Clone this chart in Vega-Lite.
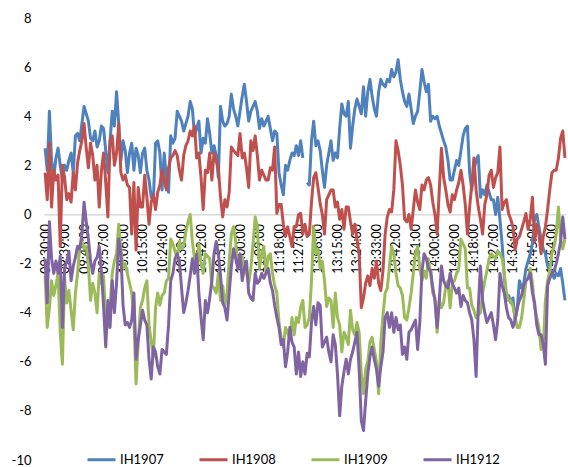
{
"$schema":"https://vega.github.io/schema/vega-lite/v6.json",
"width":522,"height":442,
"autosize":{"type":"none"},
"padding":{"left":44,"top":18,"right":2,"bottom":7},
"background":"white",
"config":{"view":{"stroke":null},"font":"Lato"},
"data":{"values":[
{"t":"09:30:00","IH1907":2.7,"IH1908":1.7,"IH1909":-2.5,"IH1912":-1.8},
{"t":"09:31:00","IH1907":1.8,"IH1908":0.6,"IH1909":-4.6,"IH1912":-3.6},
{"t":"09:32:00","IH1907":4.2,"IH1908":2.9,"IH1909":-3.8,"IH1912":-0.3},
{"t":"09:33:00","IH1907":2.2,"IH1908":0.3,"IH1909":-2.7,"IH1912":-1.8},
{"t":"09:34:00","IH1907":1.5,"IH1908":1.8,"IH1909":-3.3,"IH1912":-2.4},
{"t":"09:35:00","IH1907":2.3,"IH1908":1.4,"IH1909":-2.9,"IH1912":-1.9},
{"t":"09:36:00","IH1907":2.7,"IH1908":1.6,"IH1909":-2.4,"IH1912":-2.4},
{"t":"09:37:00","IH1907":2.0,"IH1908":-1.3,"IH1909":-4.8,"IH1912":-1.7},
{"t":"09:38:00","IH1907":1.4,"IH1908":2.0,"IH1909":-6.1,"IH1912":-4.6},
{"t":"09:39:00","IH1907":2.0,"IH1908":1.5,"IH1909":-2.6,"IH1912":-2.2},
{"t":"09:40:00","IH1907":1.8,"IH1908":0.6,"IH1909":-3.6,"IH1912":-1.9},
{"t":"09:41:00","IH1907":2.2,"IH1908":0.85,"IH1909":-3.1,"IH1912":-1.5},
{"t":"09:42:00","IH1907":2.5,"IH1908":0.5,"IH1909":-3.9,"IH1912":-2.7},
{"t":"09:43:00","IH1907":1.7,"IH1908":1.7,"IH1909":-4.7,"IH1912":-2.1},
{"t":"09:44:00","IH1907":3.2,"IH1908":1.0,"IH1909":-3.2,"IH1912":-1.75},
{"t":"09:45:00","IH1907":3.3,"IH1908":2.1,"IH1909":-2.4,"IH1912":-1.3},
{"t":"09:46:00","IH1907":3.0,"IH1908":2.6,"IH1909":-1.3,"IH1912":-1.4},
{"t":"09:47:00","IH1907":3.7,"IH1908":3.0,"IH1909":-1.1,"IH1912":-0.8},
{"t":"09:48:00","IH1907":4.4,"IH1908":3.7,"IH1909":-1.4,"IH1912":0.5},
{"t":"09:49:00","IH1907":4.1,"IH1908":2.7,"IH1909":-1.3,"IH1912":-0.3},
{"t":"09:50:00","IH1907":3.8,"IH1908":1.9,"IH1909":-2.1,"IH1912":-1.0},
{"t":"09:51:00","IH1907":3.1,"IH1908":2.9,"IH1909":-3.5,"IH1912":-1.9},
{"t":"09:52:00","IH1907":3.0,"IH1908":2.4,"IH1909":-2.8,"IH1912":-2.4},
{"t":"09:53:00","IH1907":3.4,"IH1908":1.4,"IH1909":-3.2,"IH1912":-1.9},
{"t":"09:54:00","IH1907":2.75,"IH1908":2.0,"IH1909":-4.0,"IH1912":-1.75},
{"t":"09:55:00","IH1907":3.0,"IH1908":0.3,"IH1909":-2.4,"IH1912":-1.3},
{"t":"09:56:00","IH1907":3.6,"IH1908":1.8,"IH1909":-2.8,"IH1912":-2.3},
{"t":"09:57:00","IH1907":3.5,"IH1908":2.5,"IH1909":-2.5,"IH1912":-3.75},
{"t":"09:58:00","IH1907":2.6,"IH1908":1.3,"IH1909":-4.2,"IH1912":-5.4},
{"t":"09:59:00","IH1907":1.7,"IH1908":-0.1,"IH1909":-4.6,"IH1912":-3.5},
{"t":"10:00:00","IH1907":3.0,"IH1908":3.0,"IH1909":-3.8,"IH1912":-4.6},
{"t":"10:01:00","IH1907":4.2,"IH1908":3.2,"IH1909":-2.4,"IH1912":-2.7},
{"t":"10:02:00","IH1907":3.6,"IH1908":2.0,"IH1909":-1.9,"IH1912":-4.0},
{"t":"10:03:00","IH1907":5.0,"IH1908":2.5,"IH1909":-1.6,"IH1912":-2.8},
{"t":"10:04:00","IH1907":3.7,"IH1908":3.7,"IH1909":-0.4,"IH1912":-1.0},
{"t":"10:05:00","IH1907":2.2,"IH1908":1.7,"IH1909":-1.4,"IH1912":-1.6},
{"t":"10:06:00","IH1907":3.0,"IH1908":1.4,"IH1909":-2.2,"IH1912":-3.7},
{"t":"10:07:00","IH1907":2.6,"IH1908":1.6,"IH1909":-2.0,"IH1912":-4.5},
{"t":"10:08:00","IH1907":1.7,"IH1908":1.2,"IH1909":-2.4,"IH1912":-4.4},
{"t":"10:09:00","IH1907":2.5,"IH1908":1.1,"IH1909":-2.8,"IH1912":-4.6},
{"t":"10:10:00","IH1907":2.9,"IH1908":-0.8,"IH1909":-3.2,"IH1912":-4.3},
{"t":"10:11:00","IH1907":1.8,"IH1908":1.3,"IH1909":-4.2,"IH1912":-3.2},
{"t":"10:12:00","IH1907":2.7,"IH1908":-1.45,"IH1909":-6.9,"IH1912":-5.9},
{"t":"10:13:00","IH1907":2.4,"IH1908":1.1,"IH1909":-5.2,"IH1912":-5.1},
{"t":"10:14:00","IH1907":1.7,"IH1908":0.3,"IH1909":-3.8,"IH1912":-4.5},
{"t":"10:15:00","IH1907":2.5,"IH1908":0.3,"IH1909":-3.5,"IH1912":-3.9},
{"t":"10:16:00","IH1907":2.7,"IH1908":1.6,"IH1909":-3.0,"IH1912":-4.3},
{"t":"10:17:00","IH1907":1.8,"IH1908":0.7,"IH1909":-2.7,"IH1912":-4.5},
{"t":"10:18:00","IH1907":1.4,"IH1908":-0.4,"IH1909":-4.5,"IH1912":-5.9},
{"t":"10:19:00","IH1907":0.7,"IH1908":0.5,"IH1909":-5.2,"IH1912":-6.7},
{"t":"10:20:00","IH1907":0.6,"IH1908":0.8,"IH1909":-5.8,"IH1912":-5.4},
{"t":"10:21:00","IH1907":2.9,"IH1908":0.2,"IH1909":-3.8,"IH1912":-5.6},
{"t":"10:22:00","IH1907":3.0,"IH1908":0.9,"IH1909":-3.2,"IH1912":-6.2},
{"t":"10:23:00","IH1907":2.5,"IH1908":1.2,"IH1909":-3.7,"IH1912":-6.5},
{"t":"10:24:00","IH1907":1.0,"IH1908":1.8,"IH1909":-3.3,"IH1912":-5.5},
{"t":"10:25:00","IH1907":2.5,"IH1908":1.4,"IH1909":-3.2,"IH1912":-5.6},
{"t":"10:26:00","IH1907":1.5,"IH1908":1.0,"IH1909":-2.7,"IH1912":-5.7},
{"t":"10:27:00","IH1907":0.9,"IH1908":1.9,"IH1909":-2.6,"IH1912":-4.5},
{"t":"10:28:00","IH1907":3.2,"IH1908":2.3,"IH1909":-1.0,"IH1912":-2.7},
{"t":"10:29:00","IH1907":2.9,"IH1908":2.4,"IH1909":-1.2,"IH1912":-2.4},
{"t":"10:30:00","IH1907":3.1,"IH1908":2.6,"IH1909":-1.5,"IH1912":-1.8},
{"t":"10:31:00","IH1907":4.2,"IH1908":2.4,"IH1909":-1.8,"IH1912":-1.6},
{"t":"10:32:00","IH1907":4.0,"IH1908":1.8,"IH1909":-1.1,"IH1912":-1.9},
{"t":"10:33:00","IH1907":3.8,"IH1908":1.4,"IH1909":-1.4,"IH1912":-3.0},
{"t":"10:34:00","IH1907":3.4,"IH1908":2.4,"IH1909":-1.3,"IH1912":-4.0},
{"t":"10:35:00","IH1907":3.7,"IH1908":2.8,"IH1909":-0.7,"IH1912":-3.6},
{"t":"10:36:00","IH1907":4.0,"IH1908":3.0,"IH1909":-0.3,"IH1912":-3.1},
{"t":"10:37:00","IH1907":4.6,"IH1908":3.4,"IH1909":0.0,"IH1912":-2.5},
{"t":"10:38:00","IH1907":4.3,"IH1908":3.2,"IH1909":-1.1,"IH1912":-1.8},
{"t":"10:39:00","IH1907":3.2,"IH1908":3.6,"IH1909":-1.8,"IH1912":-2.4},
{"t":"10:40:00","IH1907":3.5,"IH1908":2.3,"IH1909":-2.2,"IH1912":-1.6},
{"t":"10:41:00","IH1907":3.8,"IH1908":2.5,"IH1909":-1.2,"IH1912":-3.2},
{"t":"10:42:00","IH1907":2.5,"IH1908":1.5,"IH1909":-2.0,"IH1912":-4.2},
{"t":"10:43:00","IH1907":3.1,"IH1908":0.2,"IH1909":-2.4,"IH1912":-5.1},
{"t":"10:44:00","IH1907":2.9,"IH1908":1.8,"IH1909":-1.6,"IH1912":-3.5},
{"t":"10:45:00","IH1907":3.9,"IH1908":1.7,"IH1909":-1.7,"IH1912":-4.0},
{"t":"10:46:00","IH1907":3.3,"IH1908":2.5,"IH1909":-1.8,"IH1912":-3.4},
{"t":"10:47:00","IH1907":2.5,"IH1908":1.4,"IH1909":-2.9,"IH1912":-2.7},
{"t":"10:48:00","IH1907":2.8,"IH1908":2.5,"IH1909":-3.0,"IH1912":-1.6},
{"t":"10:49:00","IH1907":2.4,"IH1908":2.2,"IH1909":-3.2,"IH1912":-1.1},
{"t":"10:50:00","IH1907":1.5,"IH1908":1.9,"IH1909":-2.4,"IH1912":-1.6},
{"t":"10:51:00","IH1907":4.4,"IH1908":0.7,"IH1909":-3.5,"IH1912":-2.5},
{"t":"10:52:00","IH1907":3.8,"IH1908":-0.1,"IH1909":-2.9,"IH1912":-3.6},
{"t":"10:53:00","IH1907":3.6,"IH1908":0.6,"IH1909":-3.7,"IH1912":-3.8},
{"t":"10:54:00","IH1907":3.7,"IH1908":0.3,"IH1909":-3.2,"IH1912":-4.3},
{"t":"10:55:00","IH1907":4.0,"IH1908":0.9,"IH1909":-1.9,"IH1912":-3.2},
{"t":"10:56:00","IH1907":4.9,"IH1908":2.75,"IH1909":-0.8,"IH1912":-2.1},
{"t":"10:57:00","IH1907":4.3,"IH1908":2.6,"IH1909":-0.5,"IH1912":-1.4},
{"t":"10:58:00","IH1907":4.0,"IH1908":2.5,"IH1909":-1.1,"IH1912":-1.8},
{"t":"10:59:00","IH1907":3.6,"IH1908":2.4,"IH1909":-2.2,"IH1912":-2.2},
{"t":"11:00:00","IH1907":4.2,"IH1908":3.3,"IH1909":-1.9,"IH1912":-1.6},
{"t":"11:01:00","IH1907":4.8,"IH1908":2.3,"IH1909":-1.7,"IH1912":-2.7},
{"t":"11:02:00","IH1907":5.3,"IH1908":2.5,"IH1909":-2.3,"IH1912":-2.2},
{"t":"11:03:00","IH1907":4.6,"IH1908":1.9,"IH1909":-2.4,"IH1912":-1.9},
{"t":"11:04:00","IH1907":3.8,"IH1908":1.1,"IH1909":-2.8,"IH1912":-3.2},
{"t":"11:05:00","IH1907":4.2,"IH1908":3.0,"IH1909":-2.2,"IH1912":-3.4},
{"t":"11:06:00","IH1907":4.4,"IH1908":2.6,"IH1909":-1.2,"IH1912":-3.5},
{"t":"11:07:00","IH1907":4.6,"IH1908":3.2,"IH1909":-0.1,"IH1912":-2.4},
{"t":"11:08:00","IH1907":4.2,"IH1908":2.4,"IH1909":-0.5,"IH1912":-2.8},
{"t":"11:09:00","IH1907":3.5,"IH1908":1.4,"IH1909":-2.2,"IH1912":-2.7},
{"t":"11:10:00","IH1907":3.9,"IH1908":1.8,"IH1909":-1.6,"IH1912":-2.4},
{"t":"11:11:00","IH1907":3.6,"IH1908":1.6,"IH1909":-1.3,"IH1912":-2.6},
{"t":"11:12:00","IH1907":3.8,"IH1908":1.4,"IH1909":-2.4,"IH1912":-2.4},
{"t":"11:13:00","IH1907":4.0,"IH1908":1.4,"IH1909":-1.7,"IH1912":-2.2},
{"t":"11:14:00","IH1907":3.5,"IH1908":1.9,"IH1909":-1.6,"IH1912":-2.8},
{"t":"11:15:00","IH1907":3.0,"IH1908":1.8,"IH1909":-2.4,"IH1912":-3.1},
{"t":"11:16:00","IH1907":3.4,"IH1908":2.75,"IH1909":-2.9,"IH1912":-3.7},
{"t":"11:17:00","IH1907":3.3,"IH1908":0.04,"IH1909":-3.2,"IH1912":-4.2},
{"t":"11:18:00","IH1907":1.7,"IH1908":0.4,"IH1909":-4.4,"IH1912":-4.6},
{"t":"11:19:00","IH1907":1.2,"IH1908":0.4,"IH1909":-5.0,"IH1912":-5.3},
{"t":"11:20:00","IH1907":0.8,"IH1908":-0.4,"IH1909":-5.4,"IH1912":-5.1},
{"t":"11:21:00","IH1907":2.0,"IH1908":-0.9,"IH1909":-4.6,"IH1912":-6.2},
{"t":"11:22:00","IH1907":1.8,"IH1908":-0.5,"IH1909":-4.8,"IH1912":-5.6},
{"t":"11:23:00","IH1907":2.2,"IH1908":-0.9,"IH1909":-5.1,"IH1912":-4.6},
{"t":"11:24:00","IH1907":2.5,"IH1908":-1.3,"IH1909":-4.2,"IH1912":-5.2},
{"t":"11:25:00","IH1907":2.4,"IH1908":-0.5,"IH1909":-4.9,"IH1912":-5.4},
{"t":"11:26:00","IH1907":2.8,"IH1908":-0.5,"IH1909":-4.2,"IH1912":-6.5},
{"t":"11:27:00","IH1907":2.4,"IH1908":0.0,"IH1909":-4.4,"IH1912":-5.6},
{"t":"11:28:00","IH1907":3.0,"IH1908":0.04,"IH1909":-3.8,"IH1912":-6.6},
{"t":"11:29:00","IH1907":2.3,"IH1908":-0.8,"IH1909":-3.5,"IH1912":-6.0},
{"t":"11:30:00","IH1907":null,"IH1908":-0.4,"IH1909":-4.6,"IH1912":-6.5},
{"t":"13:01:00","IH1907":1.3,"IH1908":-0.9,"IH1909":-4.5,"IH1912":-5.65},
{"t":"13:02:00","IH1907":1.2,"IH1908":-0.8,"IH1909":-4.2,"IH1912":-5.8},
{"t":"13:03:00","IH1907":3.0,"IH1908":0.5,"IH1909":-2.7,"IH1912":-4.4},
{"t":"13:04:00","IH1907":3.8,"IH1908":1.5,"IH1909":-0.5,"IH1912":-3.75},
{"t":"13:05:00","IH1907":2.8,"IH1908":1.7,"IH1909":-1.6,"IH1912":-4.5},
{"t":"13:06:00","IH1907":3.0,"IH1908":1.1,"IH1909":-1.4,"IH1912":-3.6},
{"t":"13:07:00","IH1907":2.6,"IH1908":0.45,"IH1909":-2.2,"IH1912":-3.7},
{"t":"13:08:00","IH1907":1.8,"IH1908":0.0,"IH1909":-1.9,"IH1912":-5.4},
{"t":"13:09:00","IH1907":1.1,"IH1908":-0.8,"IH1909":-2.7,"IH1912":-5.2},
{"t":"13:10:00","IH1907":2.0,"IH1908":0.6,"IH1909":-3.75,"IH1912":-5.0},
{"t":"13:11:00","IH1907":2.5,"IH1908":0.8,"IH1909":-3.4,"IH1912":-5.6},
{"t":"13:12:00","IH1907":3.0,"IH1908":1.0,"IH1909":-3.5,"IH1912":-6.0},
{"t":"13:13:00","IH1907":2.2,"IH1908":1.0,"IH1909":-4.6,"IH1912":-4.9},
{"t":"13:14:00","IH1907":2.5,"IH1908":0.3,"IH1909":-3.2,"IH1912":-5.3},
{"t":"13:15:00","IH1907":2.3,"IH1908":0.5,"IH1909":-4.2,"IH1912":-6.5},
{"t":"13:16:00","IH1907":3.5,"IH1908":-0.2,"IH1909":-4.5,"IH1912":-8.2},
{"t":"13:17:00","IH1907":4.5,"IH1908":0.2,"IH1909":-5.6,"IH1912":-7.0},
{"t":"13:18:00","IH1907":4.1,"IH1908":-0.6,"IH1909":-4.8,"IH1912":-6.4},
{"t":"13:19:00","IH1907":4.0,"IH1908":0.3,"IH1909":-5.0,"IH1912":-5.9},
{"t":"13:20:00","IH1907":4.6,"IH1908":0.3,"IH1909":-5.3,"IH1912":-6.5},
{"t":"13:21:00","IH1907":2.7,"IH1908":-0.3,"IH1909":-3.9,"IH1912":-5.9},
{"t":"13:22:00","IH1907":3.6,"IH1908":-0.8,"IH1909":-4.7,"IH1912":-5.6},
{"t":"13:23:00","IH1907":4.3,"IH1908":-0.4,"IH1909":-4.9,"IH1912":-5.2},
{"t":"13:24:00","IH1907":4.7,"IH1908":-1.0,"IH1909":-4.4,"IH1912":-4.8},
{"t":"13:25:00","IH1907":4.4,"IH1908":-1.6,"IH1909":-4.8,"IH1912":-6.3},
{"t":"13:26:00","IH1907":4.1,"IH1908":-3.8,"IH1909":-6.5,"IH1912":-8.4},
{"t":"13:27:00","IH1907":5.2,"IH1908":-3.4,"IH1909":-7.3,"IH1912":-8.8},
{"t":"13:28:00","IH1907":4.0,"IH1908":-2.8,"IH1909":-6.3,"IH1912":-7.6},
{"t":"13:29:00","IH1907":5.0,"IH1908":-2.5,"IH1909":-6.0,"IH1912":-6.5},
{"t":"13:30:00","IH1907":5.5,"IH1908":-2.9,"IH1909":-5.2,"IH1912":-5.8},
{"t":"13:31:00","IH1907":4.8,"IH1908":-2.2,"IH1909":-5.0,"IH1912":-5.4},
{"t":"13:32:00","IH1907":4.3,"IH1908":-2.6,"IH1909":-5.5,"IH1912":-5.9},
{"t":"13:33:00","IH1907":4.0,"IH1908":-1.9,"IH1909":-6.0,"IH1912":-6.3},
{"t":"13:34:00","IH1907":5.0,"IH1908":-2.8,"IH1909":-7.3,"IH1912":-7.0},
{"t":"13:35:00","IH1907":5.5,"IH1908":-3.1,"IH1909":-5.2,"IH1912":-6.2},
{"t":"13:36:00","IH1907":5.3,"IH1908":-2.3,"IH1909":-4.1,"IH1912":-5.6},
{"t":"13:37:00","IH1907":5.2,"IH1908":-0.8,"IH1909":-3.2,"IH1912":-4.2},
{"t":"13:38:00","IH1907":5.5,"IH1908":-0.1,"IH1909":-3.0,"IH1912":-4.0},
{"t":"13:39:00","IH1907":5.4,"IH1908":0.2,"IH1909":-2.1,"IH1912":-4.6},
{"t":"13:40:00","IH1907":5.9,"IH1908":0.1,"IH1909":-1.3,"IH1912":-4.0},
{"t":"13:41:00","IH1907":5.6,"IH1908":1.0,"IH1909":-1.6,"IH1912":-4.8},
{"t":"13:42:00","IH1907":5.8,"IH1908":3.0,"IH1909":-2.4,"IH1912":-4.2},
{"t":"13:43:00","IH1907":6.3,"IH1908":2.6,"IH1909":-2.9,"IH1912":-4.7},
{"t":"13:44:00","IH1907":5.5,"IH1908":2.0,"IH1909":-3.0,"IH1912":-4.5},
{"t":"13:45:00","IH1907":5.0,"IH1908":1.2,"IH1909":-3.3,"IH1912":-5.7},
{"t":"13:46:00","IH1907":4.6,"IH1908":-0.2,"IH1909":-4.2,"IH1912":-5.4},
{"t":"13:47:00","IH1907":4.4,"IH1908":-0.3,"IH1909":-4.3,"IH1912":-5.9},
{"t":"13:48:00","IH1907":4.9,"IH1908":0.0,"IH1909":-3.8,"IH1912":-4.8},
{"t":"13:49:00","IH1907":4.3,"IH1908":-0.6,"IH1909":-3.2,"IH1912":-4.7},
{"t":"13:50:00","IH1907":3.7,"IH1908":0.2,"IH1909":-2.4,"IH1912":-4.5},
{"t":"13:51:00","IH1907":4.0,"IH1908":1.0,"IH1909":-1.6,"IH1912":-4.3},
{"t":"13:52:00","IH1907":4.2,"IH1908":0.5,"IH1909":-1.3,"IH1912":-5.5},
{"t":"13:53:00","IH1907":5.0,"IH1908":0.2,"IH1909":-2.2,"IH1912":-4.4},
{"t":"13:54:00","IH1907":5.9,"IH1908":1.2,"IH1909":-2.7,"IH1912":-2.3},
{"t":"13:55:00","IH1907":5.4,"IH1908":1.0,"IH1909":-2.3,"IH1912":-1.6},
{"t":"13:56:00","IH1907":5.0,"IH1908":1.4,"IH1909":-2.6,"IH1912":-1.8},
{"t":"13:57:00","IH1907":5.3,"IH1908":1.5,"IH1909":-1.8,"IH1912":-2.2},
{"t":"13:58:00","IH1907":3.8,"IH1908":1.2,"IH1909":-2.4,"IH1912":-2.3},
{"t":"13:59:00","IH1907":4.0,"IH1908":0.5,"IH1909":-3.2,"IH1912":-3.0},
{"t":"14:00:00","IH1907":3.9,"IH1908":0.0,"IH1909":-3.4,"IH1912":-3.5},
{"t":"14:01:00","IH1907":4.0,"IH1908":-0.8,"IH1909":-4.8,"IH1912":-4.6},
{"t":"14:02:00","IH1907":3.6,"IH1908":1.0,"IH1909":-3.5,"IH1912":-3.5},
{"t":"14:03:00","IH1907":3.3,"IH1908":2.7,"IH1909":-3.8,"IH1912":-2.1},
{"t":"14:04:00","IH1907":3.0,"IH1908":1.5,"IH1909":-3.6,"IH1912":-2.7},
{"t":"14:05:00","IH1907":2.75,"IH1908":1.0,"IH1909":-2.9,"IH1912":-2.9},
{"t":"14:06:00","IH1907":2.2,"IH1908":0.4,"IH1909":-2.7,"IH1912":-3.0},
{"t":"14:07:00","IH1907":1.4,"IH1908":0.1,"IH1909":-3.8,"IH1912":-2.4},
{"t":"14:08:00","IH1907":1.4,"IH1908":0.8,"IH1909":-2.8,"IH1912":-2.8},
{"t":"14:09:00","IH1907":1.8,"IH1908":0.6,"IH1909":-2.7,"IH1912":-3.0},
{"t":"14:10:00","IH1907":2.2,"IH1908":1.0,"IH1909":-2.4,"IH1912":-3.2},
{"t":"14:11:00","IH1907":2.0,"IH1908":1.3,"IH1909":-2.2,"IH1912":-3.0},
{"t":"14:12:00","IH1907":2.6,"IH1908":1.8,"IH1909":-1.0,"IH1912":-3.75},
{"t":"14:13:00","IH1907":3.2,"IH1908":1.2,"IH1909":-1.2,"IH1912":-3.3},
{"t":"14:14:00","IH1907":3.5,"IH1908":0.4,"IH1909":-1.4,"IH1912":-3.5},
{"t":"14:15:00","IH1907":3.6,"IH1908":-0.8,"IH1909":-3.0,"IH1912":-3.6},
{"t":"14:16:00","IH1907":1.7,"IH1908":0.3,"IH1909":-3.0,"IH1912":-4.0},
{"t":"14:17:00","IH1907":1.0,"IH1908":1.2,"IH1909":-3.7,"IH1912":-4.3},
{"t":"14:18:00","IH1907":1.8,"IH1908":2.3,"IH1909":-3.9,"IH1912":-5.1},
{"t":"14:19:00","IH1907":2.2,"IH1908":1.0,"IH1909":-4.2,"IH1912":-6.6},
{"t":"14:20:00","IH1907":2.4,"IH1908":0.3,"IH1909":-4.1,"IH1912":-3.8},
{"t":"14:21:00","IH1907":0.7,"IH1908":-0.2,"IH1909":-4.0,"IH1912":-2.1},
{"t":"14:22:00","IH1907":1.0,"IH1908":-0.8,"IH1909":-3.2,"IH1912":-3.5},
{"t":"14:23:00","IH1907":0.8,"IH1908":0.4,"IH1909":-2.7,"IH1912":-4.0},
{"t":"14:24:00","IH1907":1.2,"IH1908":0.8,"IH1909":-2.3,"IH1912":-4.4},
{"t":"14:25:00","IH1907":0.9,"IH1908":1.6,"IH1909":-1.8,"IH1912":-4.2},
{"t":"14:26:00","IH1907":0.6,"IH1908":1.8,"IH1909":-1.6,"IH1912":-4.0},
{"t":"14:27:00","IH1907":0.6,"IH1908":1.1,"IH1909":-1.7,"IH1912":-4.5},
{"t":"14:28:00","IH1907":0.0,"IH1908":1.5,"IH1909":-1.8,"IH1912":-5.1},
{"t":"14:29:00","IH1907":0.7,"IH1908":1.7,"IH1909":-1.5,"IH1912":-4.3},
{"t":"14:30:00","IH1907":-0.2,"IH1908":2.75,"IH1909":-1.6,"IH1912":-2.4},
{"t":"14:31:00","IH1907":-1.2,"IH1908":0.2,"IH1909":-1.8,"IH1912":-2.9},
{"t":"14:32:00","IH1907":-2.5,"IH1908":0.5,"IH1909":-2.4,"IH1912":-3.2},
{"t":"14:33:00","IH1907":-3.5,"IH1908":0.6,"IH1909":-3.2,"IH1912":-3.8},
{"t":"14:34:00","IH1907":-3.3,"IH1908":0.04,"IH1909":-3.5,"IH1912":-4.2},
{"t":"14:35:00","IH1907":-3.6,"IH1908":-0.2,"IH1909":-3.5,"IH1912":-4.3},
{"t":"14:36:00","IH1907":-3.4,"IH1908":-0.5,"IH1909":-3.75,"IH1912":-4.6},
{"t":"14:37:00","IH1907":-4.3,"IH1908":-1.45,"IH1909":-4.2,"IH1912":-4.3},
{"t":"14:38:00","IH1907":-3.8,"IH1908":-1.0,"IH1909":-4.6,"IH1912":-3.8},
{"t":"14:39:00","IH1907":-2.7,"IH1908":-0.9,"IH1909":-4.6,"IH1912":-3.5},
{"t":"14:40:00","IH1907":-3.0,"IH1908":-0.6,"IH1909":-4.2,"IH1912":-3.3},
{"t":"14:41:00","IH1907":-2.8,"IH1908":-0.3,"IH1909":-3.5,"IH1912":-2.9},
{"t":"14:42:00","IH1907":-2.2,"IH1908":0.04,"IH1909":-2.7,"IH1912":-2.7},
{"t":"14:43:00","IH1907":-1.9,"IH1908":-0.6,"IH1909":-2.6,"IH1912":-2.6},
{"t":"14:44:00","IH1907":-1.6,"IH1908":-0.2,"IH1909":-2.2,"IH1912":-2.4},
{"t":"14:45:00","IH1907":-1.2,"IH1908":0.7,"IH1909":-2.8,"IH1912":-3.2},
{"t":"14:46:00","IH1907":-0.2,"IH1908":-1.1,"IH1909":-3.75,"IH1912":-3.6},
{"t":"14:47:00","IH1907":0.0,"IH1908":-0.4,"IH1909":-4.2,"IH1912":-4.5},
{"t":"14:48:00","IH1907":-0.5,"IH1908":-0.8,"IH1909":-4.6,"IH1912":-4.9},
{"t":"14:49:00","IH1907":-1.0,"IH1908":-1.6,"IH1909":-5.5,"IH1912":-4.9},
{"t":"14:50:00","IH1907":-1.4,"IH1908":-0.9,"IH1909":-5.4,"IH1912":-5.3},
{"t":"14:51:00","IH1907":-1.6,"IH1908":-0.5,"IH1909":-3.5,"IH1912":-6.1},
{"t":"14:52:00","IH1907":-2.1,"IH1908":0.2,"IH1909":-2.7,"IH1912":-2.9},
{"t":"14:53:00","IH1907":-2.3,"IH1908":1.0,"IH1909":-2.3,"IH1912":-2.6},
{"t":"14:54:00","IH1907":-2.3,"IH1908":1.7,"IH1909":-1.6,"IH1912":-2.4},
{"t":"14:55:00","IH1907":-2.6,"IH1908":1.8,"IH1909":-1.3,"IH1912":-2.3},
{"t":"14:56:00","IH1907":-2.4,"IH1908":1.8,"IH1909":-0.8,"IH1912":-2.0},
{"t":"14:57:00","IH1907":-2.5,"IH1908":2.3,"IH1909":0.3,"IH1912":-1.6},
{"t":"14:58:00","IH1907":-2.2,"IH1908":3.1,"IH1909":-1.0,"IH1912":-1.1},
{"t":"14:59:00","IH1907":-2.8,"IH1908":3.4,"IH1909":-1.4,"IH1912":-0.1},
{"t":"15:00:00","IH1907":-3.5,"IH1908":2.3,"IH1909":-1.0,"IH1912":-1.0}
]},
"transform":[{"fold":["IH1907","IH1908","IH1909","IH1912"],"as":["series","value"]}],
"mark":{"type":"line","strokeWidth":3,"strokeJoin":"round","invalid":"break-paths-show-domains"},
"encoding":{
"x":{"field":"t","type":"ordinal","sort":null,"scale":{"type":"point","padding":0.5},
"axis":{"title":null,"values":["09:30:00","09:39:00","09:48:00","09:57:00","10:06:00","10:15:00","10:24:00","10:33:00","10:42:00","10:51:00","11:00:00","11:09:00","11:18:00","11:27:00","13:06:00","13:15:00","13:24:00","13:33:00","13:42:00","13:51:00","14:00:00","14:09:00","14:18:00","14:27:00","14:36:00","14:45:00","14:54:00"],
"labelAngle":-90,"offset":-245.6,"domainColor":"#c8c8c8","domainWidth":1,"ticks":false,"grid":false,"labelPadding":9,"labelFontSize":12.5,"labelColor":"#000000","labelFont":"Lato","labelOverlap":false}},
"y":{"field":"value","type":"quantitative","scale":{"domain":[-10,8],"nice":false,"zero":false},
"axis":{"title":null,"values":[-10,-8,-6,-4,-2,0,2,4,6,8],"labelExpr":"'' + datum.value","domain":false,"ticks":false,"grid":false,"labelPadding":13,"labelFontSize":13,"labelColor":"#000000","labelFont":"Lato"}},
"color":{"field":"series","type":"nominal","scale":{"domain":["IH1907","IH1908","IH1909","IH1912"],"range":["#4F81BD","#C0504D","#9BBB59","#8064A2"]},
"legend":{"orient":"none","legendX":42,"legendY":426,"direction":"horizontal","title":null,"symbolType":"stroke","symbolSize":784,"symbolStrokeWidth":3,"labelFontSize":13,"labelFont":"Lato","labelColor":"#000000","labelOffset":3,"columnPadding":29,"padding":0}}
}
}
